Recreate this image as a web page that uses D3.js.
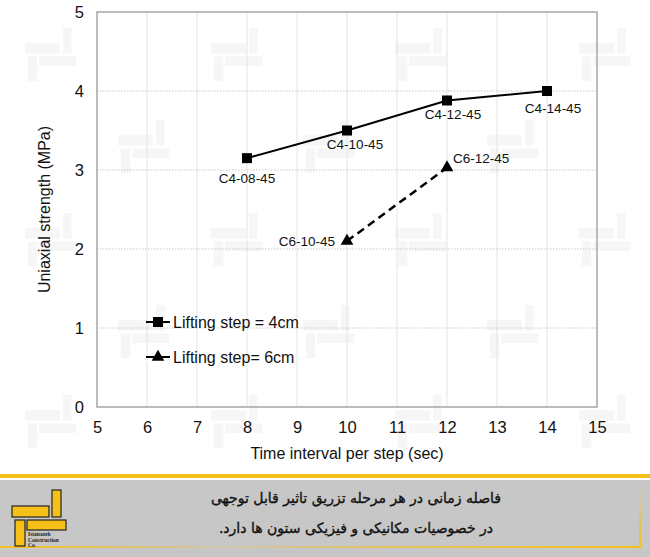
<!DOCTYPE html>
<html><head><meta charset="utf-8">
<script src="https://cdn.jsdelivr.net/npm/d3@7/dist/d3.min.js"></script>
<style>
html,body{margin:0;padding:0;background:#fff;}
svg{display:block;}
</style></head>
<body>
<svg id="chart" width="650" height="557"></svg>
<script>
// ---- data ----
const xTicks = [5,6,7,8,9,10,11,12,13,14,15];
const yTicks = [0,1,2,3,4,5];
const s4x = [8,10,12,14];
const s4y = [3.15,3.50,3.88,4.00];
const s4labels = ["C4-08-45","C4-10-45","C4-12-45","C4-14-45"];
const s6x = [10,12];
const s6y = [2.10,3.03];
const s6labels = ["C6-10-45","C6-12-45"];
const legendNames = ["Lifting step = 4cm","Lifting step= 6cm"];
const xTitle = "Time interval per step (sec)";
const yTitle = "Uniaxial strength (MPa)";
const footerLines = ["فاصله زمانی در هر مرحله تزریق تاثیر قابل توجهی","در خصوصیات مکانیکی و فیزیکی ستون ها دارد."];
const logoText = ["Istanazeh","Construction","Co."];

const svg = d3.select("#chart");
const L=97, R=597, T=12, B=407;
const x = d3.scaleLinear().domain([5,15]).range([L,R]);
const y = d3.scaleLinear().domain([0,5]).range([B,T]);

// watermark logos
function logo(g, x0, y0, s, fill, stroke, sw){
  const parts = [[0,16,37,11],[40,0,9,27],[3,30,10,26],[15,30,39,10]];
  parts.forEach(p=>g.append("rect").attr("x",x0+p[0]*s).attr("y",y0+p[1]*s)
    .attr("width",p[2]*s).attr("height",p[3]*s).attr("fill",fill)
    .attr("stroke",stroke).attr("stroke-width",sw));
}
const wm = svg.append("g");
const wmRows = [28,120,213,305,395];
wmRows.forEach((ry,i)=>{
  const cols = i%2===0 ? [25,211,395,579] : [118,303,487];
  cols.forEach(cx=>logo(wm,cx,ry,0.95,"#f6f6f6","none",0));
});

// grid
const grid = svg.append("g");
grid.selectAll(".vg").data(xTicks.slice(1,-1)).join("line")
  .attr("x1",d=>x(d)).attr("x2",d=>x(d)).attr("y1",T).attr("y2",B)
  .attr("stroke","#e4e4e4").attr("stroke-width",1);
grid.selectAll(".hg").data(yTicks.slice(1,-1)).join("line")
  .attr("x1",L).attr("x2",R).attr("y1",d=>y(d)).attr("y2",d=>y(d))
  .attr("stroke","#c8c8c8").attr("stroke-width",1).attr("stroke-dasharray","1.5,1.5");
svg.append("rect").attr("x",L).attr("y",T).attr("width",R-L).attr("height",B-T)
  .attr("fill","none").attr("stroke","#a6a6a6").attr("stroke-width",1.5);

// axes
const font = "'Liberation Sans', Arial, sans-serif";
const xAxis = svg.append("g").attr("transform",`translate(0,${B})`)
  .call(d3.axisBottom(x).tickValues(xTicks).tickSize(0).tickPadding(14).tickFormat(d3.format("d")));
xAxis.select(".domain").remove();
xAxis.selectAll("text").attr("font-family",font).attr("font-size",16.5).attr("fill","#111");
const yAxis = svg.append("g").attr("transform",`translate(${L},0)`)
  .call(d3.axisLeft(y).tickValues(yTicks).tickSize(0).tickPadding(13).tickFormat(d3.format("d")));
yAxis.select(".domain").remove();
yAxis.selectAll("text").attr("font-family",font).attr("font-size",16.5).attr("fill","#111");

svg.append("text").attr("x",(L+R)/2).attr("y",459).attr("text-anchor","middle")
  .attr("font-family",font).attr("font-size",16).attr("fill","#111").text(xTitle);
svg.append("text").attr("transform",`translate(50,${(T+B)/2}) rotate(-90)`).attr("text-anchor","middle")
  .attr("font-family",font).attr("font-size",16).attr("fill","#111").text(yTitle);

// series
const s4 = s4x.map((v,i)=>({x:v,y:s4y[i],l:s4labels[i]}));
const s6 = s6x.map((v,i)=>({x:v,y:s6y[i],l:s6labels[i]}));
const line = d3.line().x(d=>x(d.x)).y(d=>y(d.y));
svg.append("path").attr("d",line(s4)).attr("fill","none").attr("stroke","#000").attr("stroke-width",2);
svg.append("path").attr("d",line(s6)).attr("fill","none").attr("stroke","#000").attr("stroke-width",2.5).attr("stroke-dasharray","8,5");
const sq = d3.symbol().type(d3.symbolSquare).size(100);
const tri = d3.symbol().type(d3.symbolTriangle).size(70);
svg.selectAll(".m4").data(s4).join("path").attr("d",sq)
  .attr("transform",d=>`translate(${x(d.x)},${y(d.y)})`).attr("fill","#000");
svg.selectAll(".m6").data(s6).join("path").attr("d",tri)
  .attr("transform",d=>`translate(${x(d.x)},${y(d.y)})`).attr("fill","#000");

// data labels
const lblOff4 = [[0,25],[8,18],[6,19],[6,22]];
svg.selectAll(".l4").data(s4).join("text")
  .attr("x",(d,i)=>x(d.x)+lblOff4[i][0]).attr("y",(d,i)=>y(d.y)+lblOff4[i][1])
  .attr("text-anchor","middle").attr("font-family",font).attr("font-size",13.5).attr("fill","#111").text(d=>d.l);
svg.append("text").attr("x",x(s6[0].x)-12).attr("y",y(s6[0].y)+5).attr("text-anchor","end")
  .attr("font-family",font).attr("font-size",13.5).attr("fill","#111").text(s6[0].l);
svg.append("text").attr("x",x(s6[1].x)+6).attr("y",y(s6[1].y)-5).attr("text-anchor","start")
  .attr("font-family",font).attr("font-size",13.5).attr("fill","#111").text(s6[1].l);

// legend
const lg = svg.append("g");
[[322,sq,legendNames[0]],[357,tri,legendNames[1]]].forEach(([ly,sym,name])=>{
  lg.append("line").attr("x1",146).attr("x2",170).attr("y1",ly).attr("y2",ly).attr("stroke","#000").attr("stroke-width",2);
  lg.append("path").attr("d",sym).attr("transform",`translate(158,${ly})`).attr("fill","#000");
  lg.append("text").attr("x",173).attr("y",ly+6).attr("font-family",font).attr("font-size",16).attr("fill","#111").text(name);
});

// footer
const ft = svg.append("g");
ft.append("rect").attr("x",0).attr("y",474).attr("width",650).attr("height",4).attr("fill","#f5c017");
ft.append("rect").attr("x",0).attr("y",480).attr("width",650).attr("height",77).attr("fill","#c7c7c7");
const defs = svg.append("defs");
const gh = defs.append("linearGradient").attr("id","gh").attr("x1","0").attr("x2","1").attr("y1","0").attr("y2","0");
gh.append("stop").attr("offset","0").attr("stop-color","#f5c017").attr("stop-opacity",1);
gh.append("stop").attr("offset","0.35").attr("stop-color","#f5c017").attr("stop-opacity",0.15);
gh.append("stop").attr("offset","0.6").attr("stop-color","#f5c017").attr("stop-opacity",0.6);
gh.append("stop").attr("offset","1").attr("stop-color","#f5c017").attr("stop-opacity",1);
const gv = defs.append("linearGradient").attr("id","gv").attr("x1","0").attr("x2","0").attr("y1","0").attr("y2","1");
gv.append("stop").attr("offset","0").attr("stop-color","#f5c017").attr("stop-opacity",0);
gv.append("stop").attr("offset","1").attr("stop-color","#f5c017").attr("stop-opacity",1);
ft.append("rect").attr("x",0).attr("y",546).attr("width",641).attr("height",2).attr("fill","url(#gh)");
ft.append("rect").attr("x",639).attr("y",486).attr("width",2).attr("height",62).attr("fill","url(#gv)");
logo(ft,12,490,1,"#f5c017","#222",1.2);
logoText.forEach((t,i)=>ft.append("text").attr("x",28).attr("y",536+i*5.5)
  .attr("font-family","'Liberation Serif', serif").attr("font-size",5.5).attr("font-weight","bold").attr("fill","#222").text(t));
footerLines.forEach((t,i)=>ft.append("text").attr("x",356).attr("y",503+i*30)
  .attr("text-anchor","middle").attr("direction","rtl").attr("font-family","'DejaVu Sans', sans-serif")
  .attr("font-size",14).attr("fill","#111").attr("stroke","#111").attr("stroke-width",0.35).text(t));
</script>
</body></html>
